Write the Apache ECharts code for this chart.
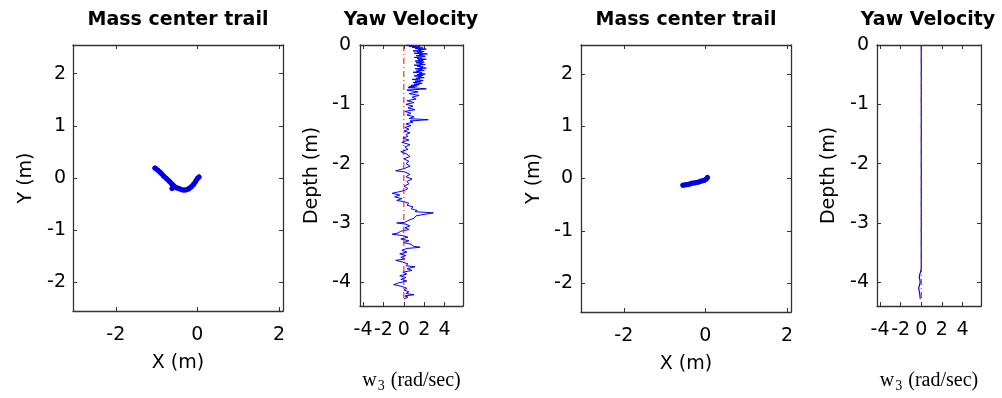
<!DOCTYPE html>
<html>
<head>
<meta charset="utf-8">
<script src="https://cdn.jsdelivr.net/npm/echarts@6/dist/echarts.min.js"></script>
<style>
html,body{margin:0;padding:0;background:#fff;}
#c{width:1002px;height:398px;}
</style>
</head>
<body>
<div id="c"></div>
<script>
// ---- Data ----
// Panel 1: mass center trail (left)
var trailX1 = [-1.04,-0.97,-0.9,-0.83,-0.76,-0.69,-0.63,-0.58,-0.62,-0.56,-0.5,-0.43,-0.36,-0.29,-0.22,-0.15,-0.09,-0.04,0.0,0.04];
var trailY1 = [0.19,0.15,0.1,0.04,-0.01,-0.06,-0.11,-0.15,-0.2,-0.17,-0.19,-0.21,-0.23,-0.23,-0.21,-0.17,-0.12,-0.06,-0.01,0.02];
// Panel 3: mass center trail (right)
var trailX3 = [-0.55,-0.48,-0.4,-0.33,-0.25,-0.18,-0.1,-0.04,0.02,0.05];
var trailY3 = [-0.13,-0.12,-0.11,-0.09,-0.08,-0.07,-0.05,-0.04,-0.01,0.02];
// Panel 2: yaw velocity vs depth (left)
var depth2 = [0,-0.01,-0.02,-0.03,-0.04,-0.05,-0.06,-0.07,-0.08,-0.09,
  -0.1,-0.11,-0.12,-0.13,-0.14,-0.15,-0.16,-0.17,-0.18,-0.19,
  -0.2,-0.21,-0.22,-0.23,-0.24,-0.25,-0.26,-0.27,-0.28,-0.29,
  -0.3,-0.31,-0.32,-0.33,-0.34,-0.35,-0.36,-0.37,-0.38,-0.39,
  -0.4,-0.41,-0.42,-0.43,-0.44,-0.45,-0.46,-0.47,-0.48,-0.49,
  -0.5,-0.51,-0.52,-0.53,-0.54,-0.55,-0.56,-0.57,-0.58,-0.59,
  -0.6,-0.61,-0.62,-0.63,-0.64,-0.65,-0.66,-0.67,-0.68,-0.69,
  -0.7,-0.71,-0.72,-0.73,-0.74,
  -0.76,-0.79,-0.82,-0.85,-0.88,-0.91,-0.94,-0.97,-1.0,-1.03,-1.06,-1.09,-1.12,-1.15,-1.18,-1.21,-1.24,
  -1.26,-1.28,-1.3,
  -1.33,-1.36,-1.39,-1.42,-1.45,-1.48,-1.51,-1.54,-1.57,
  -1.6,-1.64,-1.68,-1.72,-1.76,-1.8,-1.84,-1.88,-1.92,-1.96,-2.0,-2.04,-2.08,
  -2.12,-2.14,
  -2.18,-2.22,-2.26,-2.3,-2.34,-2.38,-2.42,-2.45,
  -2.48,-2.5,-2.53,-2.56,-2.59,-2.62,-2.64,
  -2.67,-2.7,-2.73,-2.76,-2.79,-2.81,
  -2.83,-2.85,-2.88,-2.92,-2.96,-2.99,
  -3.0,-3.02,-3.05,-3.08,-3.11,-3.14,-3.17,-3.19,-3.21,-3.24,-3.27,-3.3,-3.33,-3.36,-3.39,-3.41,-3.43,-3.46,-3.49,-3.52,-3.55,-3.58,-3.61,-3.63,-3.66,-3.69,-3.72,-3.74,-3.77,-3.8,-3.83,-3.86,-3.89,-3.92,-3.95,-3.98,-4.01,-4.04,-4.07,-4.1,-4.13,-4.16,-4.19,-4.21,-4.23,-4.25,-4.28];
var yaw2 = [0.2,0.9,0.5,1.6,0.8,1.9,1.1,2.2,1.4,1.7,
  0.9,2.0,1.3,1.8,1.0,2.3,1.5,1.9,1.2,2.1,
  1.6,1.0,1.8,1.3,2.2,1.4,1.9,1.1,1.7,2.0,
  1.2,1.8,1.5,2.1,1.0,1.7,1.3,1.9,1.6,2.2,
  1.1,1.8,1.4,2.0,1.2,1.6,0.9,1.8,1.5,2.1,
  1.3,1.9,1.0,1.7,1.4,2.0,1.2,1.6,0.8,1.5,
  1.9,1.1,1.7,0.9,1.4,1.8,1.0,1.5,0.7,1.3,
  0.5,1.1,0.4,1.6,2.2,
  0.3,1.4,0.5,1.5,0.8,1.2,0.3,1.0,0.2,0.9,0.4,1.1,0.1,0.7,0.3,1.0,0.5,
  2.4,0.6,0.9,
  0.2,0.7,0.1,0.5,0.0,0.6,0.2,0.4,-0.1,
  0.5,-0.2,0.6,0.1,0.4,-0.3,0.3,0.6,0.0,0.5,0.2,0.6,0.1,
  -0.8,0.1,
  0.6,0.2,0.8,0.3,0.5,0.0,0.4,0.1,
  -0.6,-1.15,-0.4,-0.9,-0.2,-0.7,0.0,
  0.5,0.3,0.9,0.7,1.3,1.1,
  2.9,2.2,1.2,1.0,0.4,0.1,
  -0.7,0.2,0.6,0.1,0.5,-0.3,-0.6,-1.15,-0.2,0.4,-0.3,0.5,0.0,0.7,0.9,1.6,0.3,-0.2,0.3,-0.4,0.2,-0.3,0.1,-0.8,-0.1,0.4,0.2,1.1,0.3,0.8,-0.1,0.3,-0.4,0.2,-0.3,0.3,-0.5,-1.0,-0.2,0.3,0.0,0.5,0.2,1.0,0.1,0.4,0.0];
// Panel 4: yaw velocity vs depth (right)
var depth4 = [0,-1.0,-2.0,-3.0,-3.78,-3.8,-3.9,-4.0,-4.1,-4.2,-4.28];
var yaw4 = [0,0,0,0,0,-0.15,-0.2,-0.1,-0.25,-0.15,-0.1];
// Reference (zero) line depth span
var refDepth = [0,-4.28];
var refYaw = [0,0];
// Tick labels
var trailTicks = [-2,-1,0,1,2];
var trailXTicks = [-2,0,2];
var yawXTicks = [-4,-2,0,2,4];
var depthTicks = [0,-1,-2,-3,-4];
var titles = ['Mass center trail','Yaw Velocity','Mass center trail','Yaw Velocity'];

function zip(a,b){var r=[];for(var i=0;i<a.length;i++)r.push([a[i],b[i]]);return r;}

var SANS = '"DejaVu Sans", sans-serif';
var axisColor = '#333';
var grids = [
  {left:73, top:45, width:210, height:266},
  {left:360, top:45, width:103, height:267},
  {left:581, top:45, width:210, height:267},
  {left:877, top:45, width:104, height:267}
];

function xAx(gi, min, max, ticks, pos, name, nameGap, rich){
  var a = {
    type:'value', gridIndex:gi, min:min, max:max, position:pos,
    axisLine:{show:true, onZero:false, lineStyle:{color:axisColor, width:1.3}},
    axisTick:{show:true, inside:true, length:4, customValues:ticks, lineStyle:{color:axisColor}},
    axisLabel:{show:pos==='bottom', customValues:ticks, margin:15, color:'#000', fontSize:19, fontFamily:SANS},
    splitLine:{show:false}
  };
  if(name){a.name=name; a.nameLocation='middle'; a.nameGap=nameGap;
    a.nameTextStyle = rich ? {rich:rich} : {color:'#000', fontSize:19, fontFamily:SANS};}
  return a;
}
function yAx(gi, min, max, ticks, pos, name, nameGap, margin){
  var a = {
    type:'value', gridIndex:gi, min:min, max:max, position:pos,
    axisLine:{show:true, onZero:false, lineStyle:{color:axisColor, width:1.3}},
    axisTick:{show:true, inside:true, length:4, customValues:ticks, lineStyle:{color:axisColor}},
    axisLabel:{show:pos==='left', customValues:ticks, margin:margin||8, color:'#000', fontSize:19, fontFamily:SANS},
    splitLine:{show:false}
  };
  if(name){a.name=name; a.nameLocation='middle'; a.nameGap=nameGap;
    a.nameTextStyle={color:'#000', fontSize:19, fontFamily:SANS};}
  return a;
}
var w3rich = {
  w:{fontFamily:'"Liberation Serif", serif', fontSize:20, color:'#000'},
  s:{fontFamily:'"Liberation Serif", serif', fontSize:14, color:'#000', padding:[10,1,0,1]}
};
var w3name = '{w|w}{s|3}{w| (rad/sec)}';

var xAxes = [
  xAx(0,-3.05,2.1,trailXTicks,'bottom','X (m)',43),
  xAx(0,-3.05,2.1,trailXTicks,'top'),
  xAx(1,-4.3,5.8,yawXTicks,'bottom',w3name,63,w3rich),
  xAx(1,-4.3,5.8,yawXTicks,'top'),
  xAx(2,-3.05,2.1,trailXTicks,'bottom','X (m)',43),
  xAx(2,-3.05,2.1,trailXTicks,'top'),
  xAx(3,-4.3,5.8,yawXTicks,'bottom',w3name,63,w3rich),
  xAx(3,-4.3,5.8,yawXTicks,'top')
];
var yAxes = [
  yAx(0,-2.55,2.55,trailTicks,'left','Y (m)',37,7),
  yAx(0,-2.55,2.55,trailTicks,'right'),
  yAx(1,-4.4,0,depthTicks,'left','Depth (m)',38,9),
  yAx(1,-4.4,0,depthTicks,'right'),
  yAx(2,-2.55,2.55,trailTicks,'left','Y (m)',37,8),
  yAx(2,-2.55,2.55,trailTicks,'right'),
  yAx(3,-4.4,0,depthTicks,'left','Depth (m)',38,8),
  yAx(3,-4.4,0,depthTicks,'right')
];

var trailStyle = {color:'#0000e6', width:5, cap:'round', join:'round'};
var series = [
  {type:'line', xAxisIndex:0, yAxisIndex:0, data:zip(trailX1,trailY1), symbol:'circle', symbolSize:5, showSymbol:true,
   itemStyle:{color:'#0000e6'}, lineStyle:trailStyle, animation:false, silent:true},
  {type:'line', xAxisIndex:4, yAxisIndex:4, data:zip(trailX3,trailY3), symbol:'circle', symbolSize:5, showSymbol:true,
   itemStyle:{color:'#0000e6'}, lineStyle:trailStyle, animation:false, silent:true},
  {type:'line', xAxisIndex:2, yAxisIndex:2, data:zip(yaw2,depth2), showSymbol:false,
   lineStyle:{color:'#0000ff', width:1}, animation:false, silent:true},
  {type:'line', xAxisIndex:2, yAxisIndex:2, data:zip(refYaw,refDepth), showSymbol:false,
   lineStyle:{color:'#ff0000', width:1, type:[6,3,1,3]}, animation:false, silent:true},
  {type:'line', xAxisIndex:6, yAxisIndex:6, data:zip(yaw4,depth4), showSymbol:false,
   lineStyle:{color:'#0000ff', width:1.2}, animation:false, silent:true},
  {type:'line', xAxisIndex:6, yAxisIndex:6, data:zip(refYaw,refDepth), showSymbol:false,
   lineStyle:{color:'#ff0000', width:1, type:[6,3,1,3]}, animation:false, silent:true}
];

var titleX = [178, 411, 686, 928];
var graphics = titles.map(function(t,i){
  return {type:'text', x:titleX[i], y:20, silent:true,
    style:{text:t, textAlign:'center', textVerticalAlign:'middle', fill:'#000',
      font:'bold 19px "DejaVu Sans", sans-serif'}};
});

var chart = echarts.init(document.getElementById('c'), null, {renderer:'canvas'});
chart.setOption({
  backgroundColor:'#fff',
  animation:false,
  grid:grids,
  xAxis:xAxes,
  yAxis:yAxes,
  series:series,
  graphic:graphics
});
</script>
</body>
</html>
